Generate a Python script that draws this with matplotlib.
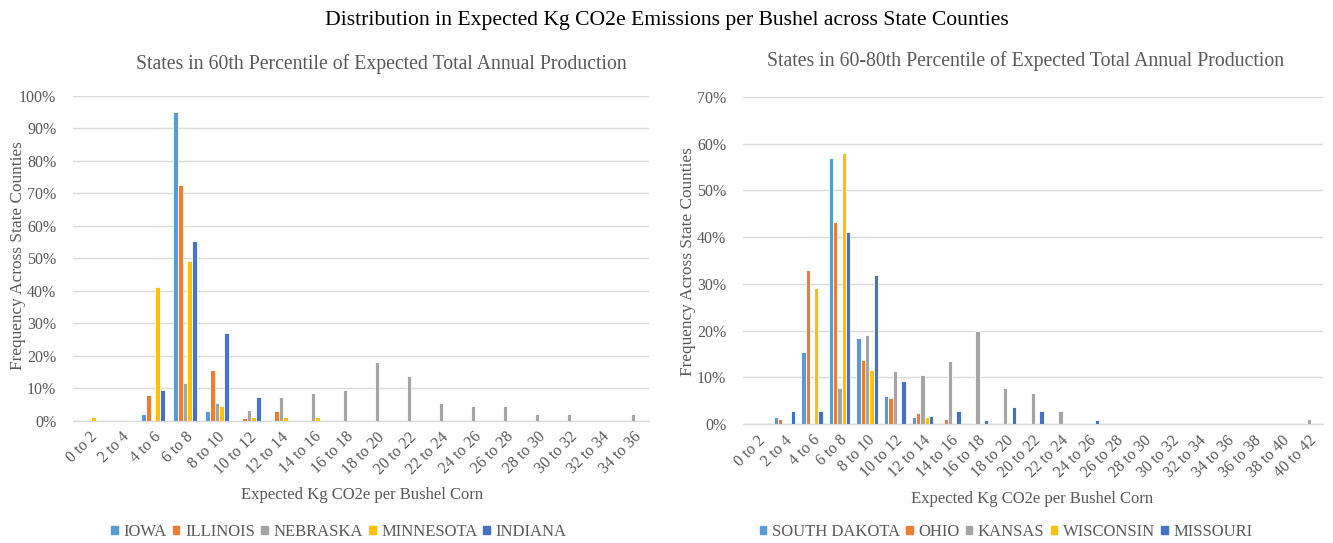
import matplotlib
matplotlib.use("Agg")
import matplotlib.pyplot as plt
from matplotlib.patches import Rectangle
import numpy as np

plt.rcParams['font.family'] = ['Liberation Serif', 'DejaVu Serif']

# left chart: states in 60th percentile
left_bins = ["0 to 2", "2 to 4", "4 to 6", "6 to 8", "8 to 10", "10 to 12",
             "12 to 14", "14 to 16", "16 to 18", "18 to 20", "20 to 22",
             "22 to 24", "24 to 26", "26 to 28", "28 to 30", "30 to 32",
             "32 to 34", "34 to 36"]
left_states = ["IOWA", "ILLINOIS", "NEBRASKA", "MINNESOTA", "INDIANA"]
iowa = [0, 0, 2.0, 95.1, 3.1, 0, 0, 0, 0, 0, 0, 0, 0, 0, 0, 0, 0, 0]
illinois = [0, 0, 7.8, 72.5, 15.7, 0.9, 3.1, 0, 0, 0, 0, 0, 0, 0, 0, 0, 0, 0]
nebraska = [0, 0, 0, 11.7, 5.5, 3.4, 7.4, 8.4, 9.4, 18.2, 13.8, 5.4, 4.4,
            4.4, 2.2, 2.2, 0, 2.2]
minnesota = [1.1, 0, 41.2, 49.2, 4.5, 1.2, 1.2, 1.2, 0, 0, 0, 0, 0, 0, 0, 0,
             0, 0]
indiana = [0, 0, 9.5, 55.4, 27.1, 7.4, 0, 0, 0, 0, 0, 0, 0, 0, 0, 0, 0, 0]

# right chart: states in 60-80th percentile
right_bins = ["0 to 2", "2 to 4", "4 to 6", "6 to 8", "8 to 10", "10 to 12",
              "12 to 14", "14 to 16", "16 to 18", "18 to 20", "20 to 22",
              "22 to 24", "24 to 26", "26 to 28", "28 to 30", "30 to 32",
              "32 to 34", "34 to 36", "36 to 38", "38 to 40", "40 to 42"]
right_states = ["SOUTH DAKOTA", "OHIO", "KANSAS", "WISCONSIN", "MISSOURI"]
south_dakota = [0, 1.5, 15.4, 56.9, 18.4, 6.0, 1.5, 0, 0, 0, 0, 0, 0, 0, 0,
                0, 0, 0, 0, 0, 0]
ohio = [0, 1.0, 32.9, 43.3, 13.6, 5.6, 2.3, 1.0, 0, 0, 0, 0, 0, 0, 0, 0, 0,
        0, 0, 0, 0]
kansas = [0, 0, 0, 7.6, 19.0, 11.4, 10.4, 13.4, 20.0, 7.6, 6.6, 2.8, 0, 0, 0,
          0, 0, 0, 0, 0, 1.0]
wisconsin = [0, 0, 29.1, 58.0, 11.6, 0, 1.5, 0, 0, 0, 0, 0, 0, 0, 0, 0, 0,
             0, 0, 0, 0]
missouri = [0, 2.8, 2.8, 41.0, 31.9, 9.1, 1.7, 2.8, 0.8, 3.6, 2.8, 0, 0.8, 0,
            0, 0, 0, 0, 0, 0, 0]

colors = ["#5B9BD5", "#ED7D31", "#A5A5A5", "#FFC000", "#4472C4"]
gray_text = "#595959"
grid_col = "#D9D9D9"

W, H = 1333, 543
fig = plt.figure(figsize=(W / 100, H / 100), dpi=100)


def px_axes(x0, x1, ytop, ybot):
    return fig.add_axes([x0 / W, 1 - ybot / H, (x1 - x0) / W, (ybot - ytop) / H])


def draw(ax, bins, series, ymax):
    x = np.arange(len(bins))
    bw = 0.156
    for i, vals in enumerate(series):
        ax.bar(x + (i - 2) * bw, vals, width=bw, color=colors[i],
               edgecolor="white", linewidth=0.6, zorder=3)
    ax.set_xlim(-0.5, len(bins) - 0.5)
    ax.set_ylim(0, ymax)
    ax.set_yticks(np.arange(0, ymax + 1, 10))
    ax.set_yticklabels([f"{v}%" for v in range(0, ymax + 1, 10)])
    ax.set_xticks(x)
    ax.set_xticklabels(bins, rotation=45, ha="right", rotation_mode="anchor")
    ax.grid(axis="y", color=grid_col, linewidth=1.0, zorder=0)
    for s in ["top", "right", "left"]:
        ax.spines[s].set_visible(False)
    ax.spines["bottom"].set_color(grid_col)
    ax.spines["bottom"].set_linewidth(1.0)
    ax.tick_params(axis="both", length=0, labelsize=11.5, colors=gray_text)
    ax.tick_params(axis="y", pad=12)
    ax.tick_params(axis="x", pad=6)


ax1 = px_axes(73, 649, 95.7, 420.7)
draw(ax1, left_bins, [iowa, illinois, nebraska, minnesota, indiana], 100)
ax2 = px_axes(743, 1322.7, 97, 424)
draw(ax2, right_bins, [south_dakota, ohio, kansas, wisconsin, missouri], 70)

fig.text(667 / W, 1 - 20 / H, "Distribution in Expected Kg CO2e Emissions per Bushel across State Counties",
         ha="center", va="center", fontsize=15.6, color="black")
fig.text(381 / W, 1 - 64 / H, "States in 60th Percentile of Expected Total Annual Production",
         ha="center", va="center", fontsize=14.2, color=gray_text)
fig.text(1026 / W, 1 - 61 / H, "States in 60-80th Percentile of Expected Total Annual Production",
         ha="center", va="center", fontsize=14.2, color=gray_text)

fig.text(362 / W, 1 - 495 / H, "Expected Kg CO2e per Bushel Corn",
         ha="center", va="center", fontsize=12, color=gray_text)
fig.text(1032 / W, 1 - 499 / H, "Expected Kg CO2e per Bushel Corn",
         ha="center", va="center", fontsize=12, color=gray_text)
fig.text(18 / W, 1 - 256 / H, "Frequency Across State Counties", rotation=90,
         ha="center", va="center", fontsize=12.4, color=gray_text)
fig.text(688 / W, 1 - 262 / H, "Frequency Across State Counties", rotation=90,
         ha="center", va="center", fontsize=12.4, color=gray_text)


def legend(names, cx):
    handles = [Rectangle((0, 0), 1, 1, color=c) for c in colors]
    fig.legend(handles, names, loc="center", bbox_to_anchor=(cx / W, 1 - 532 / H),
               ncol=5, frameon=False, handlelength=0.4, handleheight=0.4,
               handletextpad=0.34, columnspacing=0.36, fontsize=12,
               labelcolor=gray_text)


legend(left_states, 339)
legend(right_states, 1006)

fig.savefig("out.png", dpi=100)
